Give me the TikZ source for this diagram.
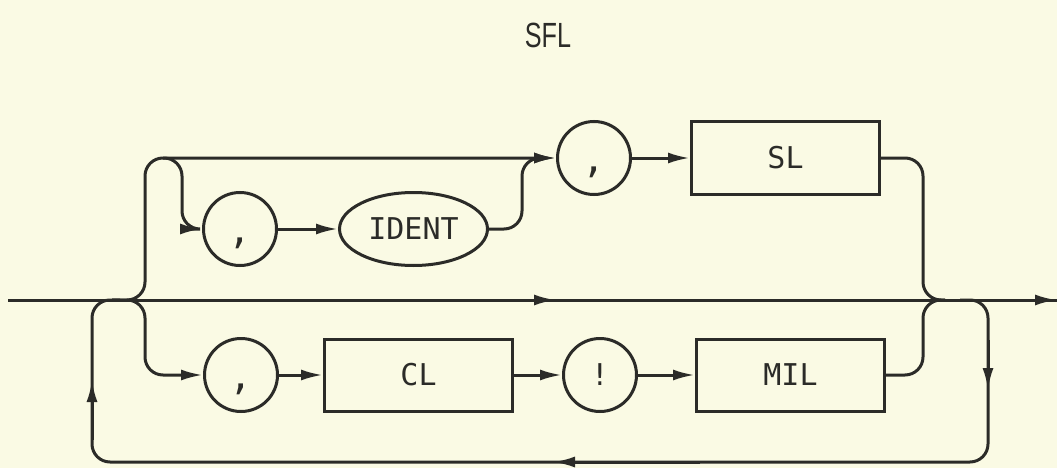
\documentclass[tikz,border=0pt]{standalone}
\usepackage{fontspec}
\setmonofont{DejaVu Sans Mono}
\setsansfont{Liberation Sans}
\usepackage{tikz}
\usetikzlibrary{arrows.meta,positioning,shapes.geometric}
\definecolor{PaperCream}{HTML}{FAFAE4}
\definecolor{PencilInk}{HTML}{2B2B28}

\begin{document}
\begin{tikzpicture}[x=1pt, y=-1pt, line width=3pt, color=PencilInk,
  every node/.style={font=\ttfamily\fontsize{30}{34}\selectfont, text=PencilInk},
  term/.style={draw, circle, minimum size=73pt, inner sep=0pt},
  punct/.style={term, font=\ttfamily\fontsize{38}{40}\selectfont, text height=28pt, text depth=0pt},
  oval/.style={draw, ellipse, minimum width=148pt, minimum height=73pt, inner sep=0pt},
  rulebox/.style={draw, rectangle, minimum width=188pt, minimum height=72pt, inner sep=0pt},
  flow/.style={-{Latex[length=22pt,width=11pt]}},
  curved/.style={rounded corners=18pt}]
  \fill[PaperCream] (0,0) rectangle (1057,468);
  \useasboundingbox (0,0) rectangle (1057,468);

  \node[font=\sffamily\fontsize{35}{40}\selectfont, xscale=0.72] (title) at (548,35) {SFL};

  % upper row
  \node[punct] (c1) at (240,229) {,};
  \node[oval, right=60pt of c1] (id) {IDENT};
  \node[punct] (c2) at (594,158) {,};
  \node[rulebox, right=58pt of c2] (sl) {SL};

  % lower row
  \node[punct] (c3) at (241,375) {,};
  \node[rulebox, right=44pt of c3] (cl) {CL};
  \node[term, right=48pt of cl] (ex) {!};
  \node[rulebox, right=57pt of ex] (mil) {MIL};

  \coordinate (in) at (8,300);
  \coordinate (mid) at (556,300);
  \coordinate (out) at (1057,300);
  \coordinate (dn) at (988,390);
  \coordinate (bk) at (553,462);
  \coordinate (up) at (92,380);

  % main line
  \draw (in) -- (out);
  \draw[flow] (in) -- (mid);
  \draw[flow] (mid) -- (out);

  % upper branch
  \draw[flow, curved] (112,300) -| (145,158) -- (c2.west);
  \draw[flow, curved] (163,158) -| (182,229) -- (c1.west);
  \draw[flow] (c1) -- (id);
  \draw[flow, curved] (id.east) -| (522,158) -- (c2.west);
  \draw[flow] (c2) -- (sl);
  \draw[curved] (sl.east) -| (923,300) -- (945,300);

  % lower branch
  \draw[flow, curved] (112,300) -| (145,375) -- (c3.west);
  \draw[flow] (c3) -- (cl);
  \draw[flow] (cl) -- (ex);
  \draw[flow] (ex) -- (mil);
  \draw[curved] (mil.east) -| (923,300) -- (945,300);

  % loop back
  \draw[curved] (960,300) -| (988,462) -| (92,300) -- (120,300);
  \draw[flow] (988,340) -- (dn);
  \draw[flow] (700,462) -- (bk);
  \draw[flow] (92,440) -- (up);
\end{tikzpicture}
\end{document}
